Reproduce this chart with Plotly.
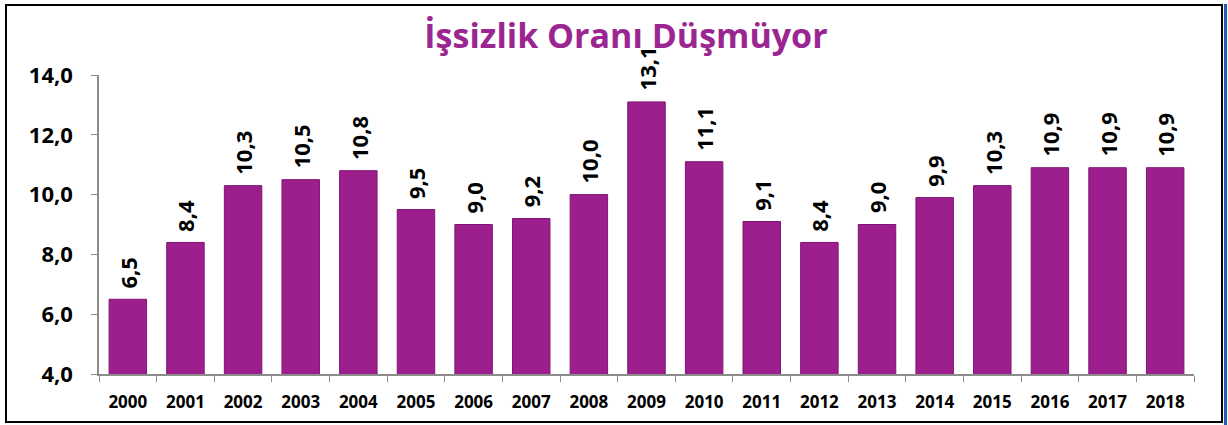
import plotly.graph_objects as go

years = ["2000", "2001", "2002", "2003", "2004", "2005", "2006", "2007", "2008", "2009",
         "2010", "2011", "2012", "2013", "2014", "2015", "2016", "2017", "2018"]
rates = [6.5, 8.4, 10.3, 10.5, 10.8, 9.5, 9.0, 9.2, 10.0, 13.1,
         11.1, 9.1, 8.4, 9.0, 9.9, 10.3, 10.9, 10.9, 10.9]
title_text = "İşsizlik Oranı Düşmüyor"
y_ticks = [4, 6, 8, 10, 12, 14]

W, H = 1228, 425
ML, MR, MT, MB = 99, 34, 75, 51
PW, PH = W - ML - MR, H - MT - MB

def px_x(x):
    return (x - ML) / PW

def px_y(y):
    return (H - MB - y) / PH

BAR = "#9C1F8D"
FONT = "Open Sans"

fig = go.Figure()
fig.add_trace(go.Bar(
    x=years, y=rates,
    marker=dict(color=BAR, line=dict(color="#7E1573", width=1)),
    base=0,
    hoverinfo="x+y",
))

for i, v in enumerate(rates):
    fig.add_annotation(
        x=i, y=v, xref="x", yref="y",
        text=f"{v:.1f}".replace(".", ","),
        textangle=-90, showarrow=False,
        yanchor="bottom", xanchor="center", yshift=9,
        font=dict(family=FONT, size=22, color="black", weight=700),
    )

# frame
fig.add_shape(type="rect", xref="paper", yref="paper",
              x0=px_x(6), x1=px_x(1222), y0=px_y(422), y1=px_y(5),
              line=dict(color="black", width=2), fillcolor="rgba(0,0,0,0)", layer="below")
fig.add_shape(type="line", xref="paper", yref="paper",
              x0=px_x(1225.5), x1=px_x(1225.5), y0=px_y(425), y1=px_y(4),
              line=dict(color="#1F5FB0", width=3))

fig.update_layout(
    width=W, height=H,
    margin=dict(l=ML, r=MR, t=MT, b=MB, autoexpand=False),
    paper_bgcolor="white", plot_bgcolor="white",
    separators=",.",
    bargap=0.35,
    showlegend=False,
    title=dict(text=title_text, x=626 / W, xanchor="center", xref="container",
               y=1 - 36 / H, yanchor="middle", yref="container",
               font=dict(family=FONT, size=34, color="#9B2692", weight=700)),
    xaxis=dict(type="category", automargin=False, tickangle=0,
               range=[-0.5, len(years) - 0.5],
               showline=True, linecolor="#8C8C8C", linewidth=1.5,
               ticks="outside", tickson="boundaries", ticklen=6, tickcolor="#8C8C8C",
               showgrid=False, ticklabelstandoff=12,
               tickfont=dict(family=FONT, size=17, color="black", weight=700)),
    yaxis=dict(range=[4, 14], tickvals=y_ticks, tickformat=".1f", automargin=False,
               showline=True, linecolor="#8C8C8C", linewidth=1.5,
               ticks="outside", ticklen=6, tickcolor="#8C8C8C",
               showgrid=False, zeroline=False, ticklabelstandoff=14,
               tickfont=dict(family=FONT, size=22, color="black", weight=700)),
)

fig.write_html("out.html", config={"displayModeBar": False},
               post_script="document.body.style.margin='0';")
